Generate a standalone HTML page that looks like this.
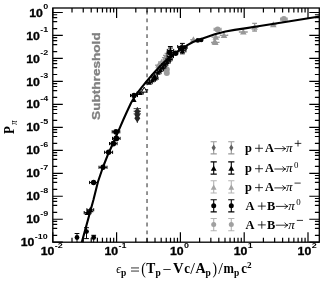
<!DOCTYPE html><html><head><meta charset="utf-8"><style>html,body{margin:0;padding:0;background:#fff}svg text{white-space:pre}svg{will-change:transform;transform:translateZ(0)}</style></head><body><svg width="329" height="282" viewBox="0 0 329 282" style="display:block"><rect x="0" y="0" width="329" height="282" fill="#fff"/><line x1="147.04" y1="8.0" x2="147.04" y2="242.2" stroke="#808080" stroke-width="1.7" stroke-dasharray="3.9 3.95" stroke-dashoffset="5.25"/><path d="M52.80 242.2v-10.0M52.80 8.0v10.0M72.01 242.2v-4.4M72.01 8.0v4.4M83.24 242.2v-4.4M83.24 8.0v4.4M91.21 242.2v-4.4M91.21 8.0v4.4M97.39 242.2v-4.4M97.39 8.0v4.4M102.45 242.2v-4.4M102.45 8.0v4.4M106.72 242.2v-4.4M106.72 8.0v4.4M110.42 242.2v-4.4M110.42 8.0v4.4M113.68 242.2v-4.4M113.68 8.0v4.4M116.60 242.2v-10.0M116.60 8.0v10.0M135.81 242.2v-4.4M135.81 8.0v4.4M147.04 242.2v-4.4M147.04 8.0v4.4M155.01 242.2v-4.4M155.01 8.0v4.4M161.19 242.2v-4.4M161.19 8.0v4.4M166.25 242.2v-4.4M166.25 8.0v4.4M170.52 242.2v-4.4M170.52 8.0v4.4M174.22 242.2v-4.4M174.22 8.0v4.4M177.48 242.2v-4.4M177.48 8.0v4.4M180.40 242.2v-10.0M180.40 8.0v10.0M199.61 242.2v-4.4M199.61 8.0v4.4M210.84 242.2v-4.4M210.84 8.0v4.4M218.81 242.2v-4.4M218.81 8.0v4.4M224.99 242.2v-4.4M224.99 8.0v4.4M230.05 242.2v-4.4M230.05 8.0v4.4M234.32 242.2v-4.4M234.32 8.0v4.4M238.02 242.2v-4.4M238.02 8.0v4.4M241.28 242.2v-4.4M241.28 8.0v4.4M244.20 242.2v-10.0M244.20 8.0v10.0M263.41 242.2v-4.4M263.41 8.0v4.4M274.64 242.2v-4.4M274.64 8.0v4.4M282.61 242.2v-4.4M282.61 8.0v4.4M288.79 242.2v-4.4M288.79 8.0v4.4M293.85 242.2v-4.4M293.85 8.0v4.4M298.12 242.2v-4.4M298.12 8.0v4.4M301.82 242.2v-4.4M301.82 8.0v4.4M305.08 242.2v-4.4M305.08 8.0v4.4M308.00 242.2v-10.0M308.00 8.0v10.0M52.8 242.20h10.0M319.3 242.20h-10.0M52.8 235.29h4.4M319.3 235.29h-4.4M52.8 228.37h4.4M319.3 228.37h-4.4M52.8 224.33h4.4M319.3 224.33h-4.4M52.8 221.46h4.4M319.3 221.46h-4.4M52.8 219.23h10.0M319.3 219.23h-10.0M52.8 212.32h4.4M319.3 212.32h-4.4M52.8 205.40h4.4M319.3 205.40h-4.4M52.8 201.36h4.4M319.3 201.36h-4.4M52.8 198.49h4.4M319.3 198.49h-4.4M52.8 196.26h10.0M319.3 196.26h-10.0M52.8 189.35h4.4M319.3 189.35h-4.4M52.8 182.43h4.4M319.3 182.43h-4.4M52.8 178.39h4.4M319.3 178.39h-4.4M52.8 175.52h4.4M319.3 175.52h-4.4M52.8 173.29h10.0M319.3 173.29h-10.0M52.8 166.38h4.4M319.3 166.38h-4.4M52.8 159.46h4.4M319.3 159.46h-4.4M52.8 155.42h4.4M319.3 155.42h-4.4M52.8 152.55h4.4M319.3 152.55h-4.4M52.8 150.32h10.0M319.3 150.32h-10.0M52.8 143.41h4.4M319.3 143.41h-4.4M52.8 136.49h4.4M319.3 136.49h-4.4M52.8 132.45h4.4M319.3 132.45h-4.4M52.8 129.58h4.4M319.3 129.58h-4.4M52.8 127.35h10.0M319.3 127.35h-10.0M52.8 120.44h4.4M319.3 120.44h-4.4M52.8 113.52h4.4M319.3 113.52h-4.4M52.8 109.48h4.4M319.3 109.48h-4.4M52.8 106.61h4.4M319.3 106.61h-4.4M52.8 104.38h10.0M319.3 104.38h-10.0M52.8 97.47h4.4M319.3 97.47h-4.4M52.8 90.55h4.4M319.3 90.55h-4.4M52.8 86.51h4.4M319.3 86.51h-4.4M52.8 83.64h4.4M319.3 83.64h-4.4M52.8 81.41h10.0M319.3 81.41h-10.0M52.8 74.50h4.4M319.3 74.50h-4.4M52.8 67.58h4.4M319.3 67.58h-4.4M52.8 63.54h4.4M319.3 63.54h-4.4M52.8 60.67h4.4M319.3 60.67h-4.4M52.8 58.44h10.0M319.3 58.44h-10.0M52.8 51.53h4.4M319.3 51.53h-4.4M52.8 44.61h4.4M319.3 44.61h-4.4M52.8 40.57h4.4M319.3 40.57h-4.4M52.8 37.70h4.4M319.3 37.70h-4.4M52.8 35.47h10.0M319.3 35.47h-10.0M52.8 28.56h4.4M319.3 28.56h-4.4M52.8 21.64h4.4M319.3 21.64h-4.4M52.8 17.60h4.4M319.3 17.60h-4.4M52.8 14.73h4.4M319.3 14.73h-4.4M52.8 12.50h10.0M319.3 12.50h-10.0" stroke="#000" stroke-width="1.2" fill="none"/><clipPath id="c"><rect x="52.8" y="8.0" width="266.5" height="234.2"/></clipPath><g clip-path="url(#c)"><path d="M214.2 29.4h6.8M214.2 27.8v3.2M221.0 27.8v3.2" stroke="#9c9c9c" stroke-width="1.3" fill="none"/><circle cx="217.6" cy="29.4" r="3.0" fill="#9c9c9c"/><path d="M280.7 19.1h6.4M280.7 17.5v3.2M287.1 17.5v3.2" stroke="#9c9c9c" stroke-width="1.3" fill="none"/><circle cx="283.9" cy="19.1" r="3.0" fill="#9c9c9c"/><circle cx="166.8" cy="69.4" r="3.0" fill="#9c9c9c"/><circle cx="166.8" cy="72.9" r="3.0" fill="#9c9c9c"/><path d="M212.2 37.1h7.2M212.2 36.4v1.4M219.4 36.4v1.4" stroke="#989898" stroke-width="1.3" fill="none"/><path d="M215.8 33.8L219.1 39.7H212.5Z" fill="#989898"/><path d="M220.4 35.3h7.2M220.4 34.6v1.4M227.6 34.6v1.4" stroke="#989898" stroke-width="1.3" fill="none"/><path d="M224.0 32.0L227.3 37.9H220.7Z" fill="#989898"/><path d="M211.7 42.4h7.2M211.7 41.7v1.4M218.9 41.7v1.4" stroke="#989898" stroke-width="1.3" fill="none"/><path d="M215.3 39.1L218.6 45.0H212.0Z" fill="#989898"/><path d="M239.5 32.0h7.6M239.5 31.3v1.4M247.1 31.3v1.4" stroke="#989898" stroke-width="1.3" fill="none"/><path d="M243.3 28.7L246.6 34.6H240.0Z" fill="#989898"/><path d="M251.4 27.2h6.4M251.4 26.5v1.4M257.8 26.5v1.4M254.6 23.4V31.0M252.2 23.4h4.8M252.2 31.0h4.8" stroke="#989898" stroke-width="1.3" fill="none"/><path d="M254.6 23.9L257.9 29.8H251.3Z" fill="#989898"/><path d="M270.8 24.6h5.0M270.8 23.9v1.4M275.8 23.9v1.4" stroke="#989898" stroke-width="1.3" fill="none"/><path d="M273.3 21.3L276.6 27.2H270.0Z" fill="#989898"/><path d="M190.9 39.6h5.0M190.9 38.9v1.4M195.9 38.9v1.4" stroke="#989898" stroke-width="1.3" fill="none"/><path d="M193.4 36.3L196.7 42.2H190.1Z" fill="#989898"/><path d="M214.6 38.3L217.9 44.2H211.3Z" fill="#989898"/><path d="M155.8 65.2h5.6M155.8 64.5v1.4M161.4 64.5v1.4" stroke="#989898" stroke-width="1.3" fill="none"/><path d="M158.6 61.9L161.9 67.8H155.3Z" fill="#989898"/><path d="M158.8 62.0h5.6M158.8 61.3v1.4M164.4 61.3v1.4" stroke="#989898" stroke-width="1.3" fill="none"/><path d="M161.6 58.7L164.9 64.6H158.3Z" fill="#989898"/><path d="M162.6 57.6h5.6M162.6 56.9v1.4M168.2 56.9v1.4M165.4 55.4V59.8M163.0 55.4h4.8M163.0 59.8h4.8" stroke="#989898" stroke-width="1.3" fill="none"/><path d="M165.4 54.3L168.7 60.2H162.1Z" fill="#989898"/><path d="M164.2 55.6h5.6M164.2 54.9v1.4M169.8 54.9v1.4M167.0 53.4V57.8M164.6 53.4h4.8M164.6 57.8h4.8" stroke="#989898" stroke-width="1.3" fill="none"/><path d="M167.0 52.3L170.3 58.2H163.7Z" fill="#989898"/><path d="M133.6 108.6h7.4M133.6 111.2h7.4M133.6 113.8h7.4M137.3 107V123" stroke="#444" stroke-width="1" fill="none"/><path d="M137.3 107.4L140.3 111.6L137.3 115.8L134.3 111.6Z" fill="#262626"/><path d="M137.3 110.6L140.3 114.8L137.3 119.0L134.3 114.8Z" fill="#262626"/><path d="M137.3 114.0L140.3 118.2L137.3 122.4L134.3 118.2Z" fill="#262626"/><path d="M81.7 242.6 L93.4 200.0 L97.9 182.0 L103.0 167.0 L108.0 154.3 L110.6 148.7 L114.5 140.0 L118.6 130.6 L123.4 119.5 L126.8 112.0 L131.0 103.0 L135.3 95.5 L137.6 92.6 L141.5 87.6 L146.9 81.0 L152.7 74.3 L158.6 67.7 L163.0 63.3 L169.0 57.8 L176.5 52.2 L187.4 45.2 L193.0 42.0 L198.0 40.0 L202.6 38.5 L214.8 34.3 L225.5 31.5 L234.6 29.9 L245.0 28.4 L256.6 26.5 L288.3 21.5 L319.4 16.5" stroke="#000" stroke-width="2.1" fill="none" stroke-linejoin="round"/><path d="M77.0 233.5V245.5M74.6 233.5h4.8M74.6 245.5h4.8" stroke="#000" stroke-width="1.0" fill="none"/><circle cx="77.0" cy="237.5" r="2.4" fill="#000"/><path d="M86.5 227.7V238.6M84.1 227.7h4.8M84.1 238.6h4.8" stroke="#000" stroke-width="1.0" fill="none"/><circle cx="86.5" cy="231.6" r="2.4" fill="#000"/><path d="M93.7 235.3V245.5M91.3 235.3h4.8M91.3 245.5h4.8" stroke="#000" stroke-width="1.0" fill="none"/><circle cx="93.7" cy="237.5" r="2.4" fill="#000"/><path d="M89.6 182.5h8.0M89.6 180.9v3.2M97.6 180.9v3.2" stroke="#000" stroke-width="1.0" fill="none"/><circle cx="93.6" cy="182.5" r="2.7" fill="#000"/><path d="M99.0 167.3h8.0M99.0 165.7v3.2M107.0 165.7v3.2" stroke="#000" stroke-width="1.0" fill="none"/><circle cx="103.0" cy="167.3" r="2.7" fill="#000"/><path d="M104.6 152.3h8.0M104.6 150.7v3.2M112.6 150.7v3.2" stroke="#000" stroke-width="1.0" fill="none"/><circle cx="108.6" cy="152.3" r="2.7" fill="#000"/><path d="M130.5 95.5h7.0M130.5 93.9v3.2M137.5 93.9v3.2" stroke="#000" stroke-width="1.0" fill="none"/><circle cx="134.0" cy="95.5" r="2.7" fill="#000"/><path d="M109.5 143.6h7.6M109.5 142.0v3.2M117.1 142.0v3.2" stroke="#000" stroke-width="1.0" fill="none"/><circle cx="113.3" cy="143.6" r="2.9" fill="#000"/><path d="M112.5 138.4h7.6M112.5 136.8v3.2M120.1 136.8v3.2" stroke="#000" stroke-width="1.0" fill="none"/><circle cx="116.3" cy="138.4" r="2.9" fill="#000"/><path d="M112.2 131.8h7.6M112.2 130.2v3.2M119.8 130.2v3.2" stroke="#000" stroke-width="1.0" fill="none"/><circle cx="116.0" cy="131.8" r="2.9" fill="#000"/><circle cx="197.8" cy="40.4" r="2.3" fill="#000"/><circle cx="201.2" cy="40.0" r="2.3" fill="#000"/><circle cx="175.7" cy="53.2" r="2.7" fill="#000"/><path d="M86.9 209.8h6.8M86.9 208.2v3.2M93.7 208.2v3.2" stroke="#000" stroke-width="1.0" fill="none"/><path d="M90.3 206.7L93.4 212.3H87.2Z" fill="#000"/><path d="M84.2 212.6h6.8M84.2 211.0v3.2M91.0 211.0v3.2" stroke="#000" stroke-width="1.0" fill="none"/><path d="M87.6 209.5L90.7 215.1H84.5Z" fill="#000"/><path d="M134.0 97.3L136.6 102.0H131.4Z" fill="#000"/><path d="M137.2 93.0h6.0M137.2 91.4v3.2M143.2 91.4v3.2" stroke="#000" stroke-width="1.0" fill="none"/><path d="M140.2 90.4L142.8 95.1H137.6Z" fill="#000"/><path d="M146.2 82.6h6.0M146.2 81.0v3.2M152.2 81.0v3.2" stroke="#000" stroke-width="1.0" fill="none"/><path d="M149.2 80.0L151.8 84.7H146.6Z" fill="#000"/><path d="M149.4 80.2h6.0M149.4 78.6v3.2M155.4 78.6v3.2" stroke="#000" stroke-width="1.0" fill="none"/><path d="M152.4 77.6L155.0 82.3H149.8Z" fill="#000"/><path d="M152.0 78.4h6.0M152.0 76.8v3.2M158.0 76.8v3.2" stroke="#000" stroke-width="1.0" fill="none"/><path d="M155.0 75.8L157.6 80.5H152.4Z" fill="#000"/><path d="M151.6 76.0h6.0M151.6 74.4v3.2M157.6 74.4v3.2" stroke="#000" stroke-width="1.0" fill="none"/><path d="M154.6 73.4L157.2 78.1H152.0Z" fill="#000"/><path d="M155.0 72.6h6.0M155.0 71.0v3.2M161.0 71.0v3.2" stroke="#000" stroke-width="1.0" fill="none"/><path d="M158.0 70.0L160.6 74.7H155.4Z" fill="#000"/><path d="M157.4 69.8h6.0M157.4 68.2v3.2M163.4 68.2v3.2" stroke="#000" stroke-width="1.0" fill="none"/><path d="M160.4 67.2L163.0 71.9H157.8Z" fill="#000"/><path d="M159.8 67.2h6.0M159.8 65.6v3.2M165.8 65.6v3.2" stroke="#000" stroke-width="1.0" fill="none"/><path d="M162.8 64.6L165.4 69.3H160.2Z" fill="#000"/><path d="M161.8 64.6h6.0M161.8 63.0v3.2M167.8 63.0v3.2" stroke="#000" stroke-width="1.0" fill="none"/><path d="M164.8 62.0L167.4 66.7H162.2Z" fill="#000"/><path d="M164.2 62.0h6.0M164.2 60.4v3.2M170.2 60.4v3.2" stroke="#000" stroke-width="1.0" fill="none"/><path d="M167.2 59.4L169.8 64.1H164.6Z" fill="#000"/><path d="M166.0 59.6h6.0M166.0 58.0v3.2M172.0 58.0v3.2" stroke="#000" stroke-width="1.0" fill="none"/><path d="M169.0 57.0L171.6 61.7H166.4Z" fill="#000"/><path d="M167.1 56.5h6.4M167.1 54.9v3.2M173.5 54.9v3.2M170.3 53.5V59.5M167.9 53.5h4.8M167.9 59.5h4.8" stroke="#000" stroke-width="1.0" fill="none"/><path d="M170.3 53.9L172.9 58.6H167.7Z" fill="#000"/><path d="M167.1 53.0h6.4M167.1 51.4v3.2M173.5 51.4v3.2M170.3 46.5V57.0M167.9 46.5h4.8M167.9 57.0h4.8" stroke="#000" stroke-width="1.0" fill="none"/><path d="M170.3 50.4L172.9 55.1H167.7Z" fill="#000"/><path d="M167.3 50.5h6.4M167.3 48.9v3.2M173.7 48.9v3.2M170.5 48.0V52.5M168.1 48.0h4.8M168.1 52.5h4.8" stroke="#000" stroke-width="1.0" fill="none"/><path d="M170.5 47.9L173.1 52.6H167.9Z" fill="#000"/><path d="M171.5 52.4L174.1 57.1H168.9Z" fill="#000"/><path d="M169.0 48.9L171.6 53.6H166.4Z" fill="#000"/><path d="M178.6 48.6h7.6M178.6 47.0v3.2M186.2 47.0v3.2M182.4 43.4V53.8M180.0 43.4h4.8M180.0 53.8h4.8" stroke="#000" stroke-width="1.0" fill="none"/><path d="M182.4 46.0L185.0 50.7H179.8Z" fill="#000"/><path d="M177.7 46.6h7.0M177.7 45.0v3.2M184.7 45.0v3.2" stroke="#000" stroke-width="1.0" fill="none"/><path d="M181.2 44.0L183.8 48.7H178.6Z" fill="#000"/><path d="M180.1 47.4h7.0M180.1 45.8v3.2M187.1 45.8v3.2" stroke="#000" stroke-width="1.0" fill="none"/><path d="M183.6 44.8L186.2 49.5H181.0Z" fill="#000"/><path d="M178.9 50.8h7.0M178.9 49.2v3.2M185.9 49.2v3.2" stroke="#000" stroke-width="1.0" fill="none"/><path d="M182.4 48.2L185.0 52.9H179.8Z" fill="#000"/><path d="M140.2 89.9h8" stroke="#000" stroke-width="1"/><path d="M144.2 87.10000000000001L147.0 92.10000000000001H141.39999999999998Z" fill="#fff" stroke="#000" stroke-width="1"/></g><rect x="52.8" y="8.0" width="266.5" height="234.2" fill="none" stroke="#000" stroke-width="1.3"/><path d="M213.7 141.70000000000002V153.9M210.6 141.70000000000002h6.2M210.6 153.9h6.2" stroke="#999" stroke-width="1.1" fill="none"/><path d="M213.7 144.5L215.8 147.8L213.7 151.1L211.6 147.8Z" fill="#606060"/><path d="M213.7 161.9V174.1M210.6 161.9h6.2M210.6 174.1h6.2" stroke="#000" stroke-width="1.1" fill="none"/><path d="M213.7 165.6L216.6 170.8H210.8Z" fill="#000"/><path d="M213.7 180.8V193.0M210.6 180.8h6.2M210.6 193.0h6.2" stroke="#b4b4b4" stroke-width="1.1" fill="none"/><path d="M213.7 184.5L216.6 189.7H210.8Z" fill="#a4a4a4"/><path d="M213.7 199.70000000000002V211.9M210.6 199.70000000000002h6.2M210.6 211.9h6.2" stroke="#000" stroke-width="1.1" fill="none"/><circle cx="213.7" cy="205.8" r="2.5" fill="#000"/><path d="M213.7 218.5V230.7M210.6 218.5h6.2M210.6 230.7h6.2" stroke="#b4b4b4" stroke-width="1.1" fill="none"/><circle cx="213.7" cy="224.6" r="2.5" fill="#a0a0a0"/><path d="M231.3 141.70000000000002V153.9M228.20000000000002 141.70000000000002h6.2M228.20000000000002 153.9h6.2" stroke="#999" stroke-width="1.1" fill="none"/><path d="M231.3 144.5L233.4 147.8L231.3 151.1L229.2 147.8Z" fill="#606060"/><path d="M231.3 161.9V174.1M228.20000000000002 161.9h6.2M228.20000000000002 174.1h6.2" stroke="#000" stroke-width="1.1" fill="none"/><path d="M231.3 165.6L234.2 170.8H228.4Z" fill="#000"/><path d="M231.3 180.8V193.0M228.20000000000002 180.8h6.2M228.20000000000002 193.0h6.2" stroke="#b4b4b4" stroke-width="1.1" fill="none"/><path d="M231.3 184.5L234.2 189.7H228.4Z" fill="#a4a4a4"/><path d="M231.3 199.70000000000002V211.9M228.20000000000002 199.70000000000002h6.2M228.20000000000002 211.9h6.2" stroke="#000" stroke-width="1.1" fill="none"/><circle cx="231.3" cy="205.8" r="2.5" fill="#000"/><path d="M231.3 218.5V230.7M228.20000000000002 218.5h6.2M228.20000000000002 230.7h6.2" stroke="#b4b4b4" stroke-width="1.1" fill="none"/><circle cx="231.3" cy="224.6" r="2.5" fill="#a0a0a0"/><text transform="translate(245.00 152.00) scale(1.0 1.02)" style="font-family:'Liberation Serif',serif;font-size:12.4px;font-weight:bold">p</text><path d="M255.00 148.30h8.0M259.00 144.50v7.6" stroke="#000" stroke-width="0.8" fill="none"/><text transform="translate(264.90 152.00) scale(1.0 1.02)" style="font-family:'Liberation Serif',serif;font-size:12.4px;font-weight:bold">A</text><path d="M274.40 148.60H285.70M282.50 146.00Q283.70 148.10 285.70 148.60Q283.70 149.10 282.50 151.20" stroke="#000" stroke-width="0.8" fill="none"/><text transform="translate(286.00 152.00) scale(1.05 1.0)" style="font-family:'Liberation Serif',serif;font-size:12.4px;font-style:italic">π</text><path d="M294.70 143.40h6.6M298.00 140.30v6.2" stroke="#000" stroke-width="0.8" fill="none"/><text transform="translate(245.00 172.40) scale(1.0 1.02)" style="font-family:'Liberation Serif',serif;font-size:12.4px;font-weight:bold">p</text><path d="M255.00 168.70h8.0M259.00 164.90v7.6" stroke="#000" stroke-width="0.8" fill="none"/><text transform="translate(264.90 172.40) scale(1.0 1.02)" style="font-family:'Liberation Serif',serif;font-size:12.4px;font-weight:bold">A</text><path d="M274.40 169.00H285.70M282.50 166.40Q283.70 168.50 285.70 169.00Q283.70 169.50 282.50 171.60" stroke="#000" stroke-width="0.8" fill="none"/><text transform="translate(286.00 172.40) scale(1.05 1.0)" style="font-family:'Liberation Serif',serif;font-size:12.4px;font-style:italic">π</text><text transform="translate(293.90 167.50) scale(1 1)" style="font-family:'Liberation Serif',serif;font-size:8.9px">0</text><text transform="translate(245.00 191.30) scale(1.0 1.02)" style="font-family:'Liberation Serif',serif;font-size:12.4px;font-weight:bold">p</text><path d="M255.00 187.60h8.0M259.00 183.80v7.6" stroke="#000" stroke-width="0.8" fill="none"/><text transform="translate(264.90 191.30) scale(1.0 1.02)" style="font-family:'Liberation Serif',serif;font-size:12.4px;font-weight:bold">A</text><path d="M274.40 187.90H285.70M282.50 185.30Q283.70 187.40 285.70 187.90Q283.70 188.40 282.50 190.50" stroke="#000" stroke-width="0.8" fill="none"/><text transform="translate(286.00 191.30) scale(1.05 1.0)" style="font-family:'Liberation Serif',serif;font-size:12.4px;font-style:italic">π</text><path d="M294.50 183.10h6.2" stroke="#000" stroke-width="0.8" fill="none"/><text transform="translate(245.40 209.80) scale(1.0 1.02)" style="font-family:'Liberation Serif',serif;font-size:12.4px;font-weight:bold">A</text><path d="M257.80 206.10h8.0M261.80 202.30v7.6" stroke="#000" stroke-width="0.8" fill="none"/><text transform="translate(267.00 209.80) scale(1.0 1.02)" style="font-family:'Liberation Serif',serif;font-size:12.4px;font-weight:bold">B</text><path d="M275.80 206.40H287.90M284.70 203.80Q285.90 205.90 287.90 206.40Q285.90 206.90 284.70 209.00" stroke="#000" stroke-width="0.8" fill="none"/><text transform="translate(288.20 209.80) scale(1.05 1.0)" style="font-family:'Liberation Serif',serif;font-size:12.4px;font-style:italic">π</text><text transform="translate(296.20 204.90) scale(1 1)" style="font-family:'Liberation Serif',serif;font-size:8.9px">0</text><text transform="translate(245.40 228.60) scale(1.0 1.02)" style="font-family:'Liberation Serif',serif;font-size:12.4px;font-weight:bold">A</text><path d="M257.80 224.90h8.0M261.80 221.10v7.6" stroke="#000" stroke-width="0.8" fill="none"/><text transform="translate(267.00 228.60) scale(1.0 1.02)" style="font-family:'Liberation Serif',serif;font-size:12.4px;font-weight:bold">B</text><path d="M275.80 225.20H287.90M284.70 222.60Q285.90 224.70 287.90 225.20Q285.90 225.70 284.70 227.80" stroke="#000" stroke-width="0.8" fill="none"/><text transform="translate(288.20 228.60) scale(1.05 1.0)" style="font-family:'Liberation Serif',serif;font-size:12.4px;font-style:italic">π</text><path d="M296.80 220.40h6.2" stroke="#000" stroke-width="0.8" fill="none"/><g transform="translate(40.70 255.30) scale(1.18 1)"><text x="0" y="0" style="font-family:'Liberation Sans',sans-serif;font-weight:bold;font-size:10.4px" stroke="#000" stroke-width="0.3">10</text><text x="11.9" y="-7.2" style="font-family:'Liberation Sans',sans-serif;font-weight:bold;font-size:7.6px">-2</text></g><g transform="translate(104.50 255.30) scale(1.18 1)"><text x="0" y="0" style="font-family:'Liberation Sans',sans-serif;font-weight:bold;font-size:10.4px" stroke="#000" stroke-width="0.3">10</text><text x="11.9" y="-7.2" style="font-family:'Liberation Sans',sans-serif;font-weight:bold;font-size:7.6px">-1</text></g><g transform="translate(170.00 255.30) scale(1.18 1)"><text x="0" y="0" style="font-family:'Liberation Sans',sans-serif;font-weight:bold;font-size:10.4px" stroke="#000" stroke-width="0.3">10</text><text x="11.9" y="-7.2" style="font-family:'Liberation Sans',sans-serif;font-weight:bold;font-size:7.6px">0</text></g><g transform="translate(233.80 255.30) scale(1.18 1)"><text x="0" y="0" style="font-family:'Liberation Sans',sans-serif;font-weight:bold;font-size:10.4px" stroke="#000" stroke-width="0.3">10</text><text x="11.9" y="-7.2" style="font-family:'Liberation Sans',sans-serif;font-weight:bold;font-size:7.6px">1</text></g><g transform="translate(297.60 255.30) scale(1.18 1)"><text x="0" y="0" style="font-family:'Liberation Sans',sans-serif;font-weight:bold;font-size:10.4px" stroke="#000" stroke-width="0.3">10</text><text x="11.9" y="-7.2" style="font-family:'Liberation Sans',sans-serif;font-weight:bold;font-size:7.6px">2</text></g><g transform="translate(20.80 246.30) scale(1.18 1)"><text x="0" y="0" style="font-family:'Liberation Sans',sans-serif;font-weight:bold;font-size:10.4px" stroke="#000" stroke-width="0.3">10</text><text x="11.9" y="-7.2" style="font-family:'Liberation Sans',sans-serif;font-weight:bold;font-size:7.6px">-10</text></g><g transform="translate(26.20 223.33) scale(1.18 1)"><text x="0" y="0" style="font-family:'Liberation Sans',sans-serif;font-weight:bold;font-size:10.4px" stroke="#000" stroke-width="0.3">10</text><text x="11.9" y="-7.2" style="font-family:'Liberation Sans',sans-serif;font-weight:bold;font-size:7.6px">-9</text></g><g transform="translate(26.20 200.36) scale(1.18 1)"><text x="0" y="0" style="font-family:'Liberation Sans',sans-serif;font-weight:bold;font-size:10.4px" stroke="#000" stroke-width="0.3">10</text><text x="11.9" y="-7.2" style="font-family:'Liberation Sans',sans-serif;font-weight:bold;font-size:7.6px">-8</text></g><g transform="translate(26.20 177.39) scale(1.18 1)"><text x="0" y="0" style="font-family:'Liberation Sans',sans-serif;font-weight:bold;font-size:10.4px" stroke="#000" stroke-width="0.3">10</text><text x="11.9" y="-7.2" style="font-family:'Liberation Sans',sans-serif;font-weight:bold;font-size:7.6px">-7</text></g><g transform="translate(26.20 154.42) scale(1.18 1)"><text x="0" y="0" style="font-family:'Liberation Sans',sans-serif;font-weight:bold;font-size:10.4px" stroke="#000" stroke-width="0.3">10</text><text x="11.9" y="-7.2" style="font-family:'Liberation Sans',sans-serif;font-weight:bold;font-size:7.6px">-6</text></g><g transform="translate(26.20 131.45) scale(1.18 1)"><text x="0" y="0" style="font-family:'Liberation Sans',sans-serif;font-weight:bold;font-size:10.4px" stroke="#000" stroke-width="0.3">10</text><text x="11.9" y="-7.2" style="font-family:'Liberation Sans',sans-serif;font-weight:bold;font-size:7.6px">-5</text></g><g transform="translate(26.20 108.48) scale(1.18 1)"><text x="0" y="0" style="font-family:'Liberation Sans',sans-serif;font-weight:bold;font-size:10.4px" stroke="#000" stroke-width="0.3">10</text><text x="11.9" y="-7.2" style="font-family:'Liberation Sans',sans-serif;font-weight:bold;font-size:7.6px">-4</text></g><g transform="translate(26.20 85.51) scale(1.18 1)"><text x="0" y="0" style="font-family:'Liberation Sans',sans-serif;font-weight:bold;font-size:10.4px" stroke="#000" stroke-width="0.3">10</text><text x="11.9" y="-7.2" style="font-family:'Liberation Sans',sans-serif;font-weight:bold;font-size:7.6px">-3</text></g><g transform="translate(26.20 62.54) scale(1.18 1)"><text x="0" y="0" style="font-family:'Liberation Sans',sans-serif;font-weight:bold;font-size:10.4px" stroke="#000" stroke-width="0.3">10</text><text x="11.9" y="-7.2" style="font-family:'Liberation Sans',sans-serif;font-weight:bold;font-size:7.6px">-2</text></g><g transform="translate(26.20 39.57) scale(1.18 1)"><text x="0" y="0" style="font-family:'Liberation Sans',sans-serif;font-weight:bold;font-size:10.4px" stroke="#000" stroke-width="0.3">10</text><text x="11.9" y="-7.2" style="font-family:'Liberation Sans',sans-serif;font-weight:bold;font-size:7.6px">-1</text></g><g transform="translate(29.30 16.60) scale(1.18 1)"><text x="0" y="0" style="font-family:'Liberation Sans',sans-serif;font-weight:bold;font-size:10.4px" stroke="#000" stroke-width="0.3">10</text><text x="11.9" y="-7.2" style="font-family:'Liberation Sans',sans-serif;font-weight:bold;font-size:7.6px">0</text></g><text transform="translate(100 119.9) rotate(-90)" style="font-family:'Liberation Sans',sans-serif;font-weight:bold;font-size:11.6px" fill="#808080" stroke="#808080" stroke-width="0.3" textLength="87.6" lengthAdjust="spacingAndGlyphs">Subthreshold</text><g transform="translate(13.8 134.0) rotate(-90)"><text transform="scale(0.88 1)" x="0" y="0" style="font-family:'Liberation Serif',serif;font-weight:bold;font-size:14.6px">P</text><text transform="translate(9.2 3.2) scale(0.9 1)" style="font-family:'Liberation Serif',serif;font-style:italic;font-size:9.6px">π</text></g><text transform="translate(116.20 273.00) scale(1.0 1.0)" style="font-family:'Liberation Serif',serif;font-size:11.6px;font-style:italic">ϵ</text><text transform="translate(120.90 275.70) scale(1 1.05)" style="font-family:'Liberation Serif',serif;font-size:9.5px;font-weight:bold">p</text><path d="M131.00 267.95h8.0M131.00 271.05h8.0" stroke="#000" stroke-width="0.8" fill="none"/><text transform="translate(141.20 273.60) scale(1 1.18)" style="font-family:'Liberation Serif',serif;font-size:13.6px">(</text><text transform="translate(146.30 273.00) scale(1 1.08)" style="font-family:'Liberation Serif',serif;font-size:13.6px;font-weight:bold">T</text><text transform="translate(155.40 275.70) scale(1 1.05)" style="font-family:'Liberation Serif',serif;font-size:9.5px;font-weight:bold">p</text><path d="M163.30 269.50h7.4" stroke="#000" stroke-width="0.8" fill="none"/><text transform="translate(172.90 273.00) scale(1.08 1.08)" style="font-family:'Liberation Serif',serif;font-size:13.6px;font-weight:bold">V</text><text transform="translate(184.30 273.00) scale(0.95 1.08)" style="font-family:'Liberation Serif',serif;font-size:13.6px;font-weight:bold">c</text><text transform="translate(190.20 273.60) scale(1.25 1.18)" style="font-family:'Liberation Serif',serif;font-size:13.6px">/</text><text transform="translate(195.60 273.00) scale(1.04 1.08)" style="font-family:'Liberation Serif',serif;font-size:13.6px;font-weight:bold">A</text><text transform="translate(205.60 275.70) scale(1 1.05)" style="font-family:'Liberation Serif',serif;font-size:9.5px;font-weight:bold">p</text><text transform="translate(212.60 273.60) scale(1 1.18)" style="font-family:'Liberation Serif',serif;font-size:13.6px">)</text><text transform="translate(218.30 273.60) scale(1.25 1.18)" style="font-family:'Liberation Serif',serif;font-size:13.6px">/</text><text transform="translate(223.60 273.00) scale(0.92 1.08)" style="font-family:'Liberation Serif',serif;font-size:13.6px;font-weight:bold">m</text><text transform="translate(234.10 275.70) scale(1 1.05)" style="font-family:'Liberation Serif',serif;font-size:9.5px;font-weight:bold">p</text><text transform="translate(241.30 273.00) scale(0.95 1.08)" style="font-family:'Liberation Serif',serif;font-size:13.6px;font-weight:bold">c</text><text transform="translate(247.00 267.60) scale(1 1)" style="font-family:'Liberation Serif',serif;font-size:9.2px;font-weight:bold">2</text></svg></body></html>
